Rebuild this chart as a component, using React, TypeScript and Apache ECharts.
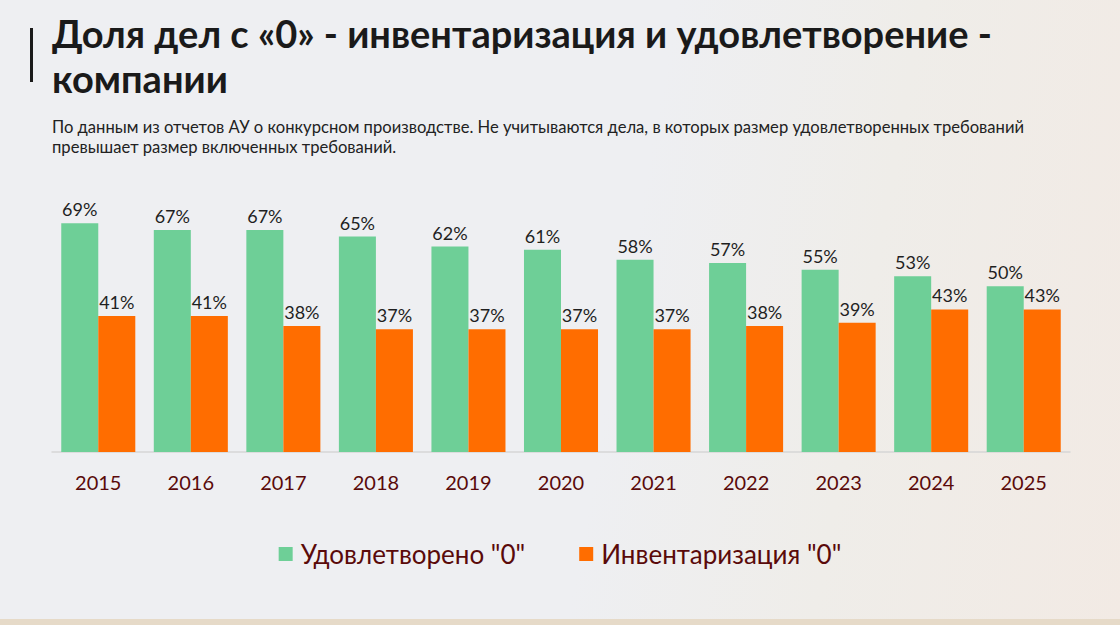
import React, { useEffect, useRef } from "react";
import * as echarts from "echarts";

const years = ["2015", "2016", "2017", "2018", "2019", "2020", "2021", "2022", "2023", "2024", "2025"];
const satisfied = [69, 67, 67, 65, 62, 61, 58, 57, 55, 53, 50];
const inventory = [41, 41, 38, 37, 37, 37, 37, 38, 39, 43, 43];
const seriesNames = ['Удовлетворено "0"', 'Инвентаризация "0"'];
const titleLines = ["Доля дел с «0» - инвентаризация и удовлетворение -", "компании"];
const subtitleLines = [
  "По данным из отчетов АУ о конкурсном производстве. Не учитываются дела, в которых размер удовлетворенных требований",
  "превышает размер включенных требований.",
];

const FONT = "Lato, 'Noto Sans', sans-serif";

export default function App() {
  const ref = useRef<HTMLDivElement>(null);
  useEffect(() => {
    if (!ref.current) return;
    const chart = echarts.init(ref.current, null, { renderer: "svg" });
    const labelCommon = {
      show: true,
      position: "top" as const,
      distance: 5,
      formatter: "{c}%",
      color: "#1f1f1f",
      fontSize: 18,
      fontFamily: FONT,
    };
    chart.setOption({
      animation: false,
      backgroundColor: "transparent",
      textStyle: { fontFamily: FONT },
      graphic: [
        {
          type: "rect",
          shape: { x: 30, y: 28, width: 3, height: 54 },
          style: { fill: "#1a1a1a" },
        },
        {
          type: "text",
          x: 52,
          y: 10,
          style: {
            text: titleLines.join("\n"),
            font: `bold 38px ${FONT}`,
            lineHeight: 45,
            fill: "#1a1a1a",
          },
        },
        {
          type: "text",
          x: 52,
          y: 118,
          style: {
            text: subtitleLines[0],
            font: `16.6px ${FONT}`,
            fill: "#222222",
          },
        },
        {
          type: "text",
          x: 52,
          y: 138,
          style: {
            text: subtitleLines[1],
            font: `16.6px ${FONT}`,
            fill: "#222222",
          },
        },
        {
          type: "rect",
          shape: { x: 0, y: 619, width: 1120, height: 6 },
          style: { fill: "#e6dac8" },
        },
      ],
      legend: {
        data: seriesNames,
        top: 536,
        left: "center",
        itemWidth: 14,
        itemHeight: 14,
        itemGap: 54,
        icon: "rect",
        textStyle: { fontSize: 26, color: "#5a0a0a", fontFamily: FONT, padding: [0, 0, 0, 3] },
      },
      grid: { left: 52, right: 50, top: 220, bottom: 173 },
      xAxis: {
        type: "category",
        data: years,
        axisLine: { show: true, lineStyle: { color: "#d6d6d6", width: 1.5 } },
        axisTick: { show: false },
        axisLabel: { color: "#5a0a0a", fontSize: 20, margin: 20, fontFamily: FONT },
      },
      yAxis: {
        type: "value",
        min: 0,
        max: 70,
        show: false,
        splitLine: { show: false },
      },
      series: [
        {
          name: seriesNames[0],
          type: "bar",
          data: satisfied,
          barGap: "0%",
          barCategoryGap: "20%",
          itemStyle: { color: "#6ecf97" },
          label: labelCommon,
        },
        {
          name: seriesNames[1],
          type: "bar",
          data: inventory,
          itemStyle: { color: "#ff6d00" },
          label: labelCommon,
        },
      ],
    });
    return () => chart.dispose();
  }, []);
  return (
    <div
      style={{
        position: "fixed",
        left: 0,
        top: 0,
        width: 1120,
        height: 625,
        background:
          "linear-gradient(100deg, #eeeff2 0%, #eeeff2 55%, #efede9 75%, #f2eae4 100%)",
      }}
    >
      <div ref={ref} style={{ width: 1120, height: 625 }} />
    </div>
  );
}
